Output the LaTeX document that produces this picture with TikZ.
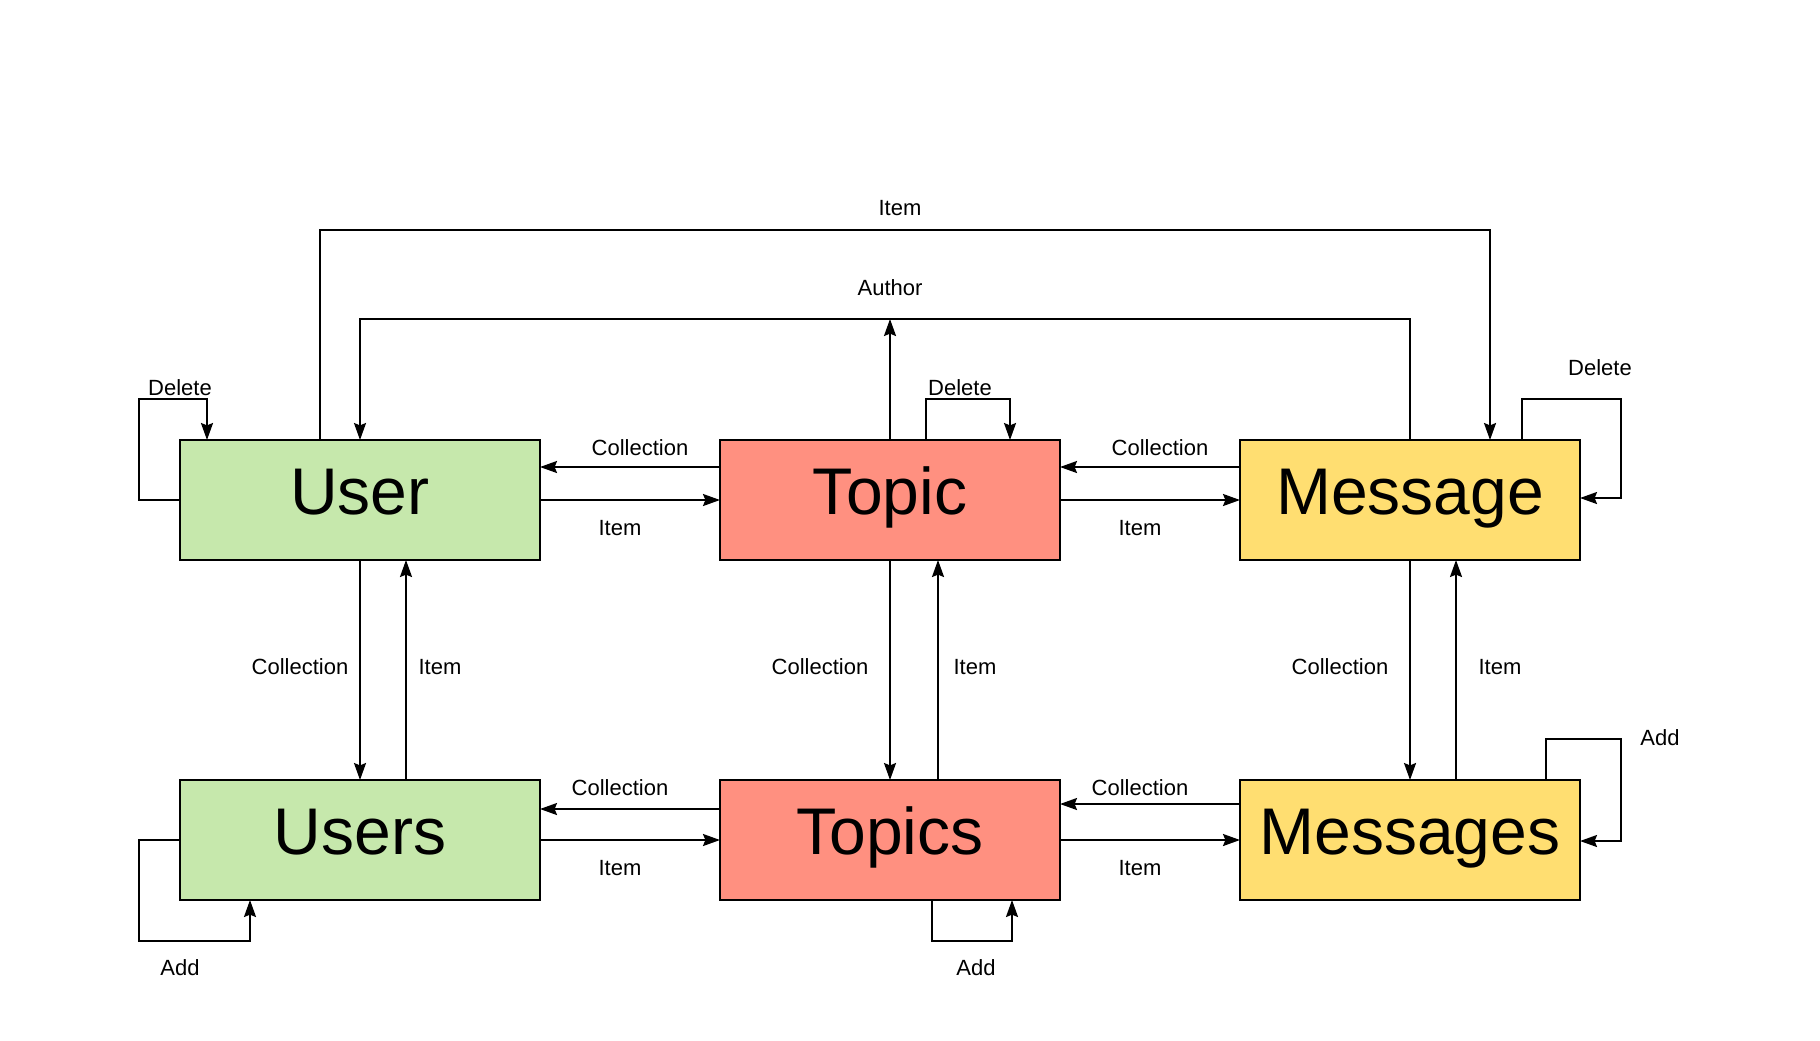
\documentclass[tikz,border=0pt]{standalone}
\usepackage{fontspec}
\setmainfont{Liberation Sans}
\usetikzlibrary{arrows.meta}
\definecolor{ugreen}{HTML}{C6E8AC}
\definecolor{tred}{HTML}{FF9080}
\definecolor{myellow}{HTML}{FFDE71}
\begin{document}
\begin{tikzpicture}[x=0.5pt,y=-0.5pt,
 box/.style={draw=black,line width=1pt,minimum height=60pt,inner sep=0pt,outer sep=0pt,
   text height=24pt,text depth=10pt,font=\fontsize{33}{40}\selectfont},
 conn/.style={line width=1pt,-{Stealth[length=8.5pt,width=6pt,inset=1.2pt]}},
 lbl/.style={font=\fontsize{11}{13}\selectfont,inner sep=0pt}]
\useasboundingbox[fill=white] (0,0) rectangle (1820,1040);
\node[box,fill=ugreen,minimum width=180pt] (user) at (360,500) {User};
\node[box,fill=tred,minimum width=170pt] (topic) at (890,500) {Topic};
\node[box,fill=myellow,minimum width=170pt] (message) at (1410,500) {Message};
\node[box,fill=ugreen,minimum width=180pt] (users) at (360,840) {Users};
\node[box,fill=tred,minimum width=170pt] (topics) at (890,840) {Topics};
\node[box,fill=myellow,minimum width=170pt] (messages) at (1410,840) {Messages};
% horizontal top row
\draw[conn] (topic.west |- 0,467) -- (user.east |- 0,467);
\draw[conn] (user.east) -- (topic.west);
\node[lbl] (l1) at (640,448) {Collection};
\node[lbl] (l2) at (620,528) {Item};
\draw[conn] (message.west |- 0,467) -- (topic.east |- 0,467);
\draw[conn] (topic.east) -- (message.west);
\node[lbl] (l3) at (1160,448) {Collection};
\node[lbl] (l4) at (1140,528) {Item};
% horizontal bottom row
\draw[conn] (topics.west |- 0,809) -- (users.east |- 0,809);
\draw[conn] (users.east) -- (topics.west);
\node[lbl] (l5) at (620,788) {Collection};
\node[lbl] (l6) at (620,868) {Item};
\draw[conn] (messages.west |- 0,804) -- (topics.east |- 0,804);
\draw[conn] (topics.east) -- (messages.west);
\node[lbl] (l7) at (1140,788) {Collection};
\node[lbl] (l8) at (1140,868) {Item};
% verticals
\draw[conn] (user.south) -- (users.north);
\draw[conn] (users.north -| 406,0) -- (user.south -| 406,0);
\node[lbl] (l9) at (300,667) {Collection};
\node[lbl] (l10) at (440,667) {Item};
\draw[conn] (topic.south) -- (topics.north);
\draw[conn] (topics.north -| 938,0) -- (topic.south -| 938,0);
\node[lbl] (l11) at (820,667) {Collection};
\node[lbl] (l12) at (975,667) {Item};
\draw[conn] (message.south) -- (messages.north);
\draw[conn] (messages.north -| 1456,0) -- (message.south -| 1456,0);
\node[lbl] (l13) at (1340,667) {Collection};
\node[lbl] (l14) at (1500,667) {Item};
% top long connectors
\draw[conn] (user.north -| 320,0) |- (1490,230) -- (message.north -| 1490,0);
\node[lbl] (l15) at (900,208) {Item};
\draw[conn] (message.north) |- (360,319) -- (user.north);
\draw[conn] (topic.north) -- (topic.north |- 0,319);
\node[lbl] (l16) at (890,288) {Author};
% self loops
\draw[conn] (user.west) -| (139,399) -| (user.north -| 207,0);
\node[lbl] (l17) at (180,388) {Delete};
\draw[conn] (topic.north -| 926,0) |- (1010,399) -- (topic.north -| 1010,0);
\node[lbl] (l18) at (960,388) {Delete};
\draw[conn] (message.north -| 1522,0) |- (1621,399) |- (message.east |- 0,498);
\node[lbl] (l19) at (1600,368) {Delete};
\draw[conn] (users.west) -| (139,941) -| (users.south -| 250,0);
\node[lbl] (l20) at (180,968) {Add};
\draw[conn] (topics.south -| 932,0) |- (1012,941) -- (topics.south -| 1012,0);
\node[lbl] (l21) at (976,968) {Add};
\draw[conn] (messages.north -| 1546,0) |- (1621,739) |- (messages.east |- 0,841);
\node[lbl] (l22) at (1660,738) {Add};
\end{tikzpicture}
\end{document}
